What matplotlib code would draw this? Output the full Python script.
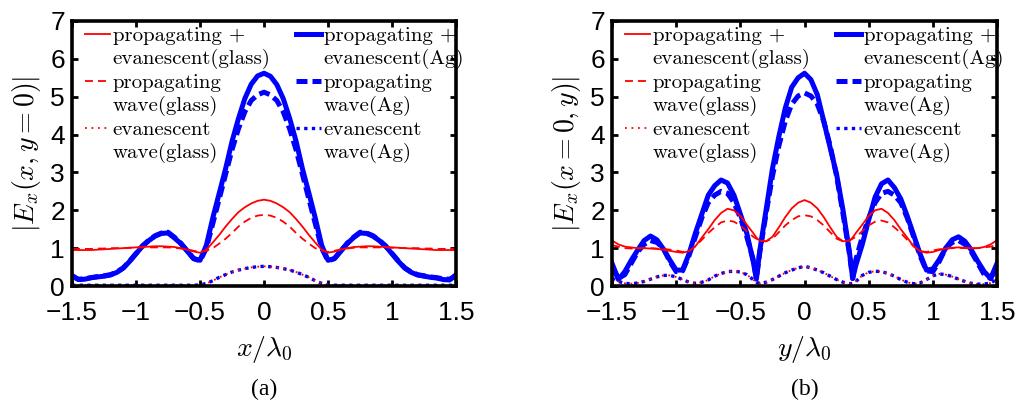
import matplotlib
matplotlib.use("Agg")
import matplotlib.pyplot as plt
import numpy as np
from matplotlib.lines import Line2D
from matplotlib.legend_handler import HandlerLine2D

plt.rcParams['mathtext.fontset'] = 'cm'
plt.rcParams['font.family'] = ['Liberation Sans', 'DejaVu Sans']

# ---- panel (a): field along x (y = 0) ----
x_a = np.linspace(-1.5, 1.5, 61)
total_ag_a = [0.28, 0.17, 0.18, 0.22, 0.24, 0.26, 0.29, 0.36, 0.47, 0.65,
              0.85, 1.05, 1.20, 1.32, 1.39, 1.40, 1.27, 1.12, 0.92, 0.72,
              0.68, 1.08, 1.80, 2.45, 3.10, 3.82, 4.42, 4.95, 5.33, 5.55,
              5.62,
              5.54, 5.32, 4.95, 4.43, 3.83, 3.10, 2.46, 1.80, 1.08, 0.68,
              0.72, 0.92, 1.12, 1.28, 1.40, 1.39, 1.32, 1.20, 1.05, 0.85,
              0.65, 0.47, 0.36, 0.29, 0.26, 0.23, 0.21, 0.17, 0.16, 0.30]
prop_ag_a = [0.25, 0.18, 0.19, 0.22, 0.25, 0.27, 0.30, 0.37, 0.48, 0.66,
             0.86, 1.06, 1.21, 1.33, 1.40, 1.42, 1.29, 1.13, 0.93, 0.73,
             0.66, 1.00, 1.65, 2.30, 2.95, 3.60, 4.15, 4.60, 4.90, 5.05,
             5.12,
             5.05, 4.90, 4.60, 4.15, 3.60, 2.95, 2.30, 1.65, 1.00, 0.66,
             0.73, 0.93, 1.13, 1.29, 1.42, 1.40, 1.33, 1.21, 1.06, 0.86,
             0.66, 0.48, 0.37, 0.30, 0.27, 0.24, 0.22, 0.19, 0.18, 0.26]
evan_ag_a = [0.02, 0.02, 0.02, 0.02, 0.02, 0.02, 0.02, 0.02, 0.02, 0.02,
             0.02, 0.02, 0.02, 0.02, 0.02, 0.02, 0.02, 0.02, 0.02, 0.02,
             0.03, 0.07, 0.14, 0.23, 0.30, 0.37, 0.42, 0.46, 0.49, 0.51,
             0.52,
             0.51, 0.49, 0.46, 0.42, 0.37, 0.30, 0.23, 0.14, 0.07, 0.03,
             0.02, 0.02, 0.02, 0.02, 0.02, 0.02, 0.02, 0.02, 0.02, 0.02,
             0.02, 0.02, 0.02, 0.02, 0.02, 0.02, 0.02, 0.02, 0.02, 0.02]
total_gl_a = [0.95, 0.95, 0.95, 0.95, 0.96, 0.97, 0.98, 0.99, 1.00, 1.01,
              1.02, 1.03, 1.04, 1.05, 1.05, 1.04, 1.03, 1.00, 0.96, 0.91,
              0.88, 0.96, 1.15, 1.35, 1.57, 1.77, 1.95, 2.08, 2.18, 2.25,
              2.28,
              2.25, 2.18, 2.08, 1.95, 1.77, 1.57, 1.35, 1.15, 0.96, 0.88,
              0.91, 0.96, 1.00, 1.03, 1.04, 1.05, 1.05, 1.04, 1.03, 1.02,
              1.01, 1.00, 0.99, 0.98, 0.97, 0.96, 0.95, 0.95, 0.95, 0.95]
prop_gl_a = [0.98, 0.98, 0.98, 0.98, 0.99, 0.99, 1.00, 1.00, 1.00, 1.01,
             1.01, 1.02, 1.02, 1.02, 1.02, 1.02, 1.01, 0.99, 0.97, 0.93,
             0.90, 0.93, 1.00, 1.12, 1.25, 1.40, 1.57, 1.70, 1.80, 1.86,
             1.88,
             1.86, 1.80, 1.70, 1.57, 1.40, 1.25, 1.12, 1.00, 0.93, 0.90,
             0.93, 0.97, 0.99, 1.01, 1.02, 1.02, 1.02, 1.02, 1.02, 1.01,
             1.01, 1.00, 1.00, 1.00, 0.99, 0.99, 0.98, 0.98, 0.98, 0.98]
evan_gl_a = [0.02, 0.02, 0.02, 0.02, 0.02, 0.02, 0.02, 0.02, 0.02, 0.02,
             0.02, 0.02, 0.02, 0.02, 0.02, 0.02, 0.02, 0.02, 0.02, 0.02,
             0.03, 0.07, 0.14, 0.23, 0.30, 0.37, 0.42, 0.46, 0.49, 0.51,
             0.52,
             0.51, 0.49, 0.46, 0.42, 0.37, 0.30, 0.23, 0.14, 0.07, 0.03,
             0.02, 0.02, 0.02, 0.02, 0.02, 0.02, 0.02, 0.02, 0.02, 0.02,
             0.02, 0.02, 0.02, 0.02, 0.02, 0.02, 0.02, 0.02, 0.02, 0.02]

# ---- panel (b): field along y (x = 0) ----
x_b = [-1.5, -1.45, -1.4, -1.35, -1.3, -1.25, -1.2, -1.15, -1.1, -1.05,
       -1.0, -0.95, -0.9, -0.85, -0.8, -0.75, -0.7, -0.65, -0.6, -0.55,
       -0.5, -0.45, -0.4, -0.375, -0.35, -0.3, -0.25, -0.2, -0.15, -0.1,
       -0.05, 0.0, 0.05, 0.1, 0.15, 0.2, 0.25, 0.3, 0.35, 0.375,
       0.4, 0.45, 0.5, 0.55, 0.6, 0.65, 0.7, 0.75, 0.8, 0.85,
       0.9, 0.95, 1.0, 1.05, 1.1, 1.15, 1.2, 1.25, 1.3, 1.35,
       1.4, 1.45, 1.5]
total_ag_b = [0.60, 0.17, 0.38, 0.68, 0.95, 1.20, 1.32, 1.22, 0.98, 0.69,
              0.42, 0.42, 0.85, 1.40, 1.90, 2.40, 2.65, 2.80, 2.72, 2.40,
              1.90, 1.40, 0.65, 0.18, 0.90, 2.00, 3.10, 3.95, 4.70, 5.25,
              5.50, 5.62, 5.45, 5.05, 4.35, 3.65, 2.95, 2.00, 0.90, 0.20,
              0.55, 1.10, 1.75, 2.35, 2.70, 2.80, 2.60, 2.30, 1.85, 1.35,
              0.85, 0.42, 0.45, 0.70, 1.00, 1.22, 1.30, 1.18, 0.95, 0.65,
              0.38, 0.20, 0.60]
prop_ag_b = [0.50, 0.20, 0.30, 0.60, 0.90, 1.10, 1.20, 1.15, 1.00, 0.65,
             0.38, 0.40, 0.80, 1.30, 1.80, 2.20, 2.40, 2.50, 2.45, 2.20,
             1.80, 1.30, 0.70, 0.20, 0.85, 1.90, 2.90, 3.70, 4.35, 4.80,
             5.02, 5.10, 5.02, 4.80, 4.35, 3.70, 2.90, 1.90, 0.85, 0.20,
             0.70, 1.30, 1.80, 2.20, 2.45, 2.50, 2.40, 2.20, 1.80, 1.30,
             0.80, 0.40, 0.38, 0.65, 1.00, 1.15, 1.20, 1.10, 0.90, 0.60,
             0.30, 0.20, 0.50]
evan_ag_b = [0.20, 0.12, 0.07, 0.06, 0.08, 0.12, 0.18, 0.24, 0.28, 0.28,
             0.24, 0.17, 0.10, 0.07, 0.10, 0.16, 0.26, 0.33, 0.38, 0.39,
             0.37, 0.30, 0.17, 0.10, 0.07, 0.10, 0.17, 0.26, 0.35, 0.42,
             0.48, 0.52, 0.48, 0.42, 0.35, 0.26, 0.17, 0.10, 0.06, 0.07,
             0.12, 0.28, 0.36, 0.39, 0.38, 0.33, 0.26, 0.17, 0.10, 0.06,
             0.08, 0.17, 0.27, 0.32, 0.30, 0.25, 0.18, 0.12, 0.07, 0.05,
             0.05, 0.08, 0.18]
total_gl_b = [1.20, 1.10, 1.04, 1.02, 1.00, 1.00, 0.99, 0.98, 0.96, 0.93,
              0.90, 0.88, 0.92, 1.05, 1.28, 1.50, 1.74, 1.93, 2.04, 2.00,
              1.85, 1.62, 1.40, 1.28, 1.20, 1.18, 1.30, 1.55, 1.82, 2.05,
              2.20, 2.27, 2.20, 2.05, 1.82, 1.55, 1.30, 1.18, 1.20, 1.28,
              1.40, 1.62, 1.85, 2.00, 2.04, 1.93, 1.74, 1.50, 1.28, 1.05,
              0.92, 0.88, 0.90, 0.95, 0.99, 1.01, 1.02, 1.01, 1.00, 1.00,
              1.03, 1.10, 1.21]
prop_gl_b = [1.08, 1.04, 1.00, 0.99, 0.99, 1.00, 1.00, 0.99, 0.98, 0.96,
             0.94, 0.90, 0.92, 1.05, 1.22, 1.40, 1.55, 1.68, 1.73, 1.70,
             1.60, 1.45, 1.30, 1.25, 1.20, 1.18, 1.25, 1.42, 1.60, 1.74,
             1.84, 1.87, 1.84, 1.74, 1.60, 1.42, 1.25, 1.18, 1.20, 1.25,
             1.30, 1.45, 1.60, 1.70, 1.73, 1.68, 1.55, 1.40, 1.22, 1.05,
             0.92, 0.90, 0.94, 0.97, 0.99, 1.00, 1.01, 1.00, 0.99, 1.00,
             1.02, 1.04, 1.08]
evan_gl_b = [0.20, 0.12, 0.07, 0.06, 0.08, 0.12, 0.18, 0.24, 0.28, 0.28,
             0.24, 0.17, 0.10, 0.07, 0.10, 0.16, 0.26, 0.33, 0.38, 0.39,
             0.37, 0.30, 0.17, 0.10, 0.07, 0.10, 0.17, 0.26, 0.35, 0.42,
             0.48, 0.52, 0.48, 0.42, 0.35, 0.26, 0.17, 0.10, 0.06, 0.07,
             0.12, 0.28, 0.36, 0.39, 0.38, 0.33, 0.26, 0.17, 0.10, 0.06,
             0.08, 0.17, 0.27, 0.32, 0.30, 0.25, 0.18, 0.12, 0.07, 0.05,
             0.05, 0.08, 0.18]

labels_glass = ['propagating +\nevanescent(glass)', 'propagating\nwave(glass)',
                'evanescent\nwave(glass)']
labels_ag = ['propagating +\nevanescent(Ag)', 'propagating\nwave(Ag)',
             'evanescent\nwave(Ag)']
xticks = [-1.5, -1, -0.5, 0, 0.5, 1, 1.5]
xtick_labels = ['\u22121.5', '\u22121', '\u22120.5', '0', '0.5', '1', '1.5']

LEG_FS = 15


class TopLineHandler(HandlerLine2D):
    # put the legend line next to the first text line, like matlab does
    def create_artists(self, legend, orig_handle, xdescent, ydescent,
                       width, height, fontsize, trans):
        arts = super().create_artists(legend, orig_handle, xdescent, ydescent,
                                      width, height, fontsize, trans)
        for a in arts:
            a.set_ydata(np.asarray(a.get_ydata()) + 0.68 * fontsize)
        return arts


def draw_panel(ax, x, tot_gl, prop_gl, ev_gl, tot_ag, prop_ag, ev_ag,
               ylabel, xlabel, caption):
    h2, = ax.plot(x, tot_ag, color='b', lw=3.6)
    h4, = ax.plot(x, prop_ag, color='b', lw=3.6, dashes=(2.2, 1.0))
    h6, = ax.plot(x, ev_ag, color='b', lw=2.4, dashes=(1, 1.3))
    h1, = ax.plot(x, tot_gl, color='r', lw=1.3)
    h3, = ax.plot(x, prop_gl, color='r', lw=1.3, dashes=(4.4, 2.8))
    h5, = ax.plot(x, ev_gl, color='r', lw=1.3, dashes=(1, 2.6))

    ax.set_xlim(-1.5, 1.5)
    ax.set_ylim(0, 7)
    ax.set_xticks(xticks)
    ax.set_xticklabels(xtick_labels)
    ax.set_yticks(range(8))
    ax.tick_params(direction='in', top=True, right=True, length=4, width=2,
                   labelsize=19)
    ax.tick_params(axis='x', pad=11)
    ax.tick_params(axis='y', pad=5)
    for s in ax.spines.values():
        s.set_linewidth(2.6)
    ax.set_ylabel(ylabel, fontsize=20, labelpad=5)
    ax.set_xlabel(xlabel, fontsize=20, labelpad=6)
    ax.text(0.5, -0.39, caption, transform=ax.transAxes, ha='center',
            va='center', fontsize=17, family='Liberation Serif')

    leg = ax.legend([h1, h3, h5, h2, h4, h6], labels_glass + labels_ag,
                    ncol=2, loc='upper left', bbox_to_anchor=(0.033, 0.977),
                    frameon=False, prop={'family': 'cmr10', 'size': LEG_FS},
                    handlelength=1.2, handletextpad=0.15,
                    columnspacing=1.2, labelspacing=0.25, borderpad=0.0,
                    borderaxespad=0.0,
                    handler_map={Line2D: TopLineHandler()})
    for t in leg.get_texts():
        t.set_linespacing(1.25)
    return leg


fig = plt.figure(figsize=(10.2, 4.03), dpi=100)
ax_a = fig.add_axes([0.0706, 0.2903, 0.3765, 0.6576])
ax_b = fig.add_axes([0.6, 0.2903, 0.3775, 0.6576])

draw_panel(ax_a, x_a, total_gl_a, prop_gl_a, evan_gl_a,
           total_ag_a, prop_ag_a, evan_ag_a,
           r'$|E_x(x,y=0)|$', r'$x/\lambda_0$', '(a)')
draw_panel(ax_b, x_b, total_gl_b, prop_gl_b, evan_gl_b,
           total_ag_b, prop_ag_b, evan_ag_b,
           r'$|E_x(x=0,y)|$', r'$y/\lambda_0$', '(b)')

fig.savefig('out.png', dpi=100)
